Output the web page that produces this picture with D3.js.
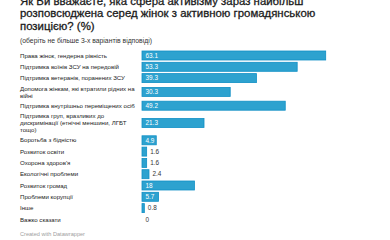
<!DOCTYPE html>
<html>
<head>
<meta charset="UTF-8">
<title>Активізм</title>
<script src="https://cdnjs.cloudflare.com/ajax/libs/d3/7.8.5/d3.min.js"></script>
<style>
    body { margin: 0; background: #fff; font-family: "Liberation Sans", Arial, sans-serif; }
    .title { font-size: 11.4px; fill: #1a1a1a; stroke: #1a1a1a; stroke-width: 0.3px; }
    .subtitle { font-size: 6.8px; fill: #333; }
    .label { font-size: 6.1px; fill: #222; }
    .value { font-size: 6.4px; }
    .footer { font-size: 5.6px; fill: #a0a0a0; }
</style>
</head>
<body>
<svg id="chart"></svg>
<script>

var titleLines = [
    "Як Ви вважаєте, яка сфера активізму зараз найбільш",
    "розповсюджена серед жінок з активною громадянською",
    "позицією? (%)"
]
var subtitle = "(оберіть не більше 3-х варіантів відповіді)"

// "\n" marks where the reference breaks a long label
var categories = [
    "Права жінок, гендерна рівність",
    "Підтримка воїнів ЗСУ на передовій",
    "Підтримка ветеранів, поранених ЗСУ",
    "Допомога жінкам, які втратили рідних на\nвійні",
    "Підтримка внутрішньо переміщених осіб",
    "Підтримка груп, вразливих до\nдискримінації (етнічні меншини, ЛГБТ\nтощо)",
    "Боротьба з бідністю",
    "Розвиток освіти",
    "Охорона здоров'я",
    "Екологічні проблеми",
    "Розвиток громад",
    "Проблеми корупції",
    "Інше",
    "Важко сказати"
]
var values = [63.1, 53.3, 39.3, 30.3, 49.2, 21.3, 4.9, 1.6, 1.6, 2.4, 18, 5.7, 0.8, 0]

var W = 390, H = 240
var svg = d3.select("#chart").attr("width", W).attr("height", H)

// title
svg.append("text").attr("class", "title")
    .selectAll("tspan").data(titleLines).join("tspan")
    .attr("x", 20).attr("y", function (d, i) { return 4.5 + i * 12.6 })
    .text(function (d) { return d })

svg.append("text").attr("class", "subtitle")
    .attr("x", 20).attr("y", 43.3).text(subtitle)

var labelX = 20
var barX = 142
var barH = 9, gap = 2.3, lineH = 7

var x = d3.scaleLinear().domain([0, 63.1]).range([barX, barX + 183.7])

// vertical layout: centre of each row
var centers = [], cur = 51
categories.forEach(function (c) {
    var h = Math.max(barH, c.split("\n").length * lineH)
    centers.push(cur + h / 2)
    cur += h + gap
})
var y = d3.scaleOrdinal().domain(categories).range(centers)

var rows = svg.append("g").selectAll("g").data(categories).join("g")

rows.append("text").attr("class", "label")
    .each(function (d) {
        var lines = d.split("\n"), n = lines.length
        d3.select(this).selectAll("tspan").data(lines).join("tspan")
            .attr("x", labelX)
            .attr("y", function (l, i) { return y(d) + (i - (n - 1) / 2) * lineH })
            .attr("dy", "0.35em")
            .text(function (l) { return l })
    })

rows.append("rect")
    .attr("x", barX)
    .attr("y", function (d) { return y(d) - barH / 2 })
    .attr("width", function (d, i) { return Math.max(0, x(values[i]) - barX) })
    .attr("height", barH)
    .attr("fill", function (d, i) { return values[i] > 0 ? "#2da2cf" : "none" })
    .attr("stroke", function (d, i) { return values[i] > 0 ? "#0f8fc5" : "none" })
    .attr("stroke-width", 0.8)

rows.append("text").attr("class", "value")
    .attr("x", function (d, i) {
        var w = x(values[i]) - barX
        return w > 14 ? barX + 3.5 : x(values[i]) + 3.5
    })
    .attr("y", function (d) { return y(d) })
    .attr("dy", "0.35em")
    .attr("fill", function (d, i) { return x(values[i]) - barX > 14 ? "#fff" : "#333" })
    .text(function (d, i) { return d3.format("")(values[i]) })

svg.append("text").attr("class", "footer")
    .attr("x", 20).attr("y", 236).text("Created with Datawrapper")

</script>
</body>
</html>
